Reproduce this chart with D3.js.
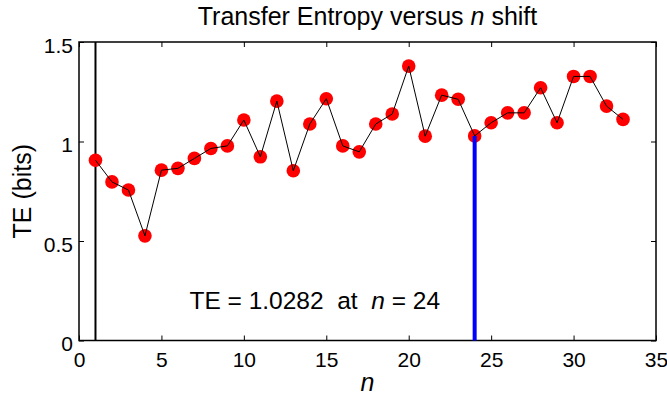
<!DOCTYPE html>
<html>
<head>
<meta charset="utf-8">
<script src="https://d3js.org/d3.v7.min.js"></script>
<style>
  body { margin: 0; background: #fff; }
  text { font-family: "Liberation Sans", Arial, sans-serif; }
</style>
</head>
<body>
<svg id="chart" width="667" height="396"></svg>
<script>
  // data
  var shifts = d3.range(1, 34);
  var teValues = [0.906, 0.797, 0.756, 0.526, 0.856, 0.865, 0.915, 0.965, 0.978, 1.108,
                  0.923, 1.203, 0.853, 1.088, 1.215, 0.978, 0.948, 1.088, 1.138, 1.379,
                  1.027, 1.233, 1.212, 1.0282, 1.094, 1.144, 1.144, 1.270, 1.094, 1.327,
                  1.327, 1.178, 1.111];
  var xTicks = [0, 5, 10, 15, 20, 25, 30, 35];
  var yTicks = [0, 0.5, 1, 1.5];
  var startShift = 1;
  var bestShift = 24;
  var bestTE = 1.0282;

  var svg = d3.select('#chart');
  var plotL = 79, plotR = 656, plotT = 42, plotB = 340.5;

  var x = d3.scaleLinear().domain([0, 35]).range([plotL, plotR]);
  var y = d3.scaleLinear().domain([0, 1.5]).range([plotB, plotT]);

  // box
  svg.append('rect')
    .attr('x', plotL).attr('y', plotT)
    .attr('width', plotR - plotL).attr('height', plotB - plotT)
    .attr('fill', 'none').attr('stroke', '#000').attr('stroke-width', 1.5);

  // axes, MATLAB style ticks inward
  var xAxis = svg.append('g').attr('transform', 'translate(0,' + plotB + ')')
    .call(d3.axisBottom(x).tickValues(xTicks).tickSize(-5).tickPadding(11.5).tickFormat(d3.format('d')));
  var xTop = svg.append('g').attr('transform', 'translate(0,' + plotT + ')')
    .call(d3.axisTop(x).tickValues(xTicks).tickSize(-5).tickFormat(''));
  var yAxis = svg.append('g').attr('transform', 'translate(' + plotL + ',0)')
    .call(d3.axisLeft(y).tickValues(yTicks).tickSize(-5).tickPadding(6).tickFormat(function(d) { return d; }));
  var yRight = svg.append('g').attr('transform', 'translate(' + plotR + ',0)')
    .call(d3.axisRight(y).tickValues(yTicks).tickSize(-5).tickFormat(''));

  [xAxis, xTop, yAxis, yRight].forEach(function(g) {
    g.select('.domain').remove();
    g.selectAll('line').attr('stroke', '#000').attr('stroke-width', 1);
    g.selectAll('text').attr('font-size', 21).attr('fill', '#000')
      .attr('font-family', '"Liberation Sans", Arial, sans-serif');
  });
  yAxis.selectAll('text').attr('dy', '0.48em');

  // start line at n = 1
  svg.append('line')
    .attr('x1', x(startShift)).attr('x2', x(startShift))
    .attr('y1', y(0)).attr('y2', y(1.5))
    .attr('stroke', '#000').attr('stroke-width', 2);

  // markers
  svg.selectAll('circle.pt')
    .data(shifts)
    .enter().append('circle')
    .attr('class', 'pt')
    .attr('cx', function(d) { return x(d); })
    .attr('cy', function(d, i) { return y(teValues[i]); })
    .attr('r', 6.8)
    .attr('fill', '#ff0000');

  // connecting line
  var line = d3.line()
    .x(function(d) { return x(d); })
    .y(function(d, i) { return y(teValues[i]); });
  svg.append('path')
    .attr('d', line(shifts))
    .attr('fill', 'none').attr('stroke', '#000').attr('stroke-width', 1);

  // best shift marker
  svg.append('line')
    .attr('x1', x(bestShift)).attr('x2', x(bestShift))
    .attr('y1', y(0)).attr('y2', y(bestTE))
    .attr('stroke', '#0000ff').attr('stroke-width', 4);

  // annotation
  var note = svg.append('text')
    .attr('x', x(6.7)).attr('y', y(0.157))
    .attr('font-size', 24.5).attr('xml:space', 'preserve');
  note.append('tspan').text('TE = ' + bestTE + '  at  ');
  note.append('tspan').attr('font-style', 'italic').text('n');
  note.append('tspan').text(' = ' + bestShift);

  // title
  var title = svg.append('text')
    .attr('x', (plotL + plotR) / 2).attr('y', 25)
    .attr('text-anchor', 'middle').attr('font-size', 25)
    .attr('xml:space', 'preserve');
  title.append('tspan').text('Transfer Entropy versus ');
  title.append('tspan').attr('font-style', 'italic').text('n');
  title.append('tspan').text(' shift');

  // axis labels
  svg.append('text')
    .attr('x', (plotL + plotR) / 2).attr('y', 391)
    .attr('text-anchor', 'middle').attr('font-size', 25)
    .attr('font-style', 'italic').text('n');
  svg.append('text')
    .attr('transform', 'translate(31,' + ((plotT + plotB) / 2) + ') rotate(-90)')
    .attr('text-anchor', 'middle').attr('font-size', 25)
    .text('TE (bits)');
</script>
</body>
</html>
